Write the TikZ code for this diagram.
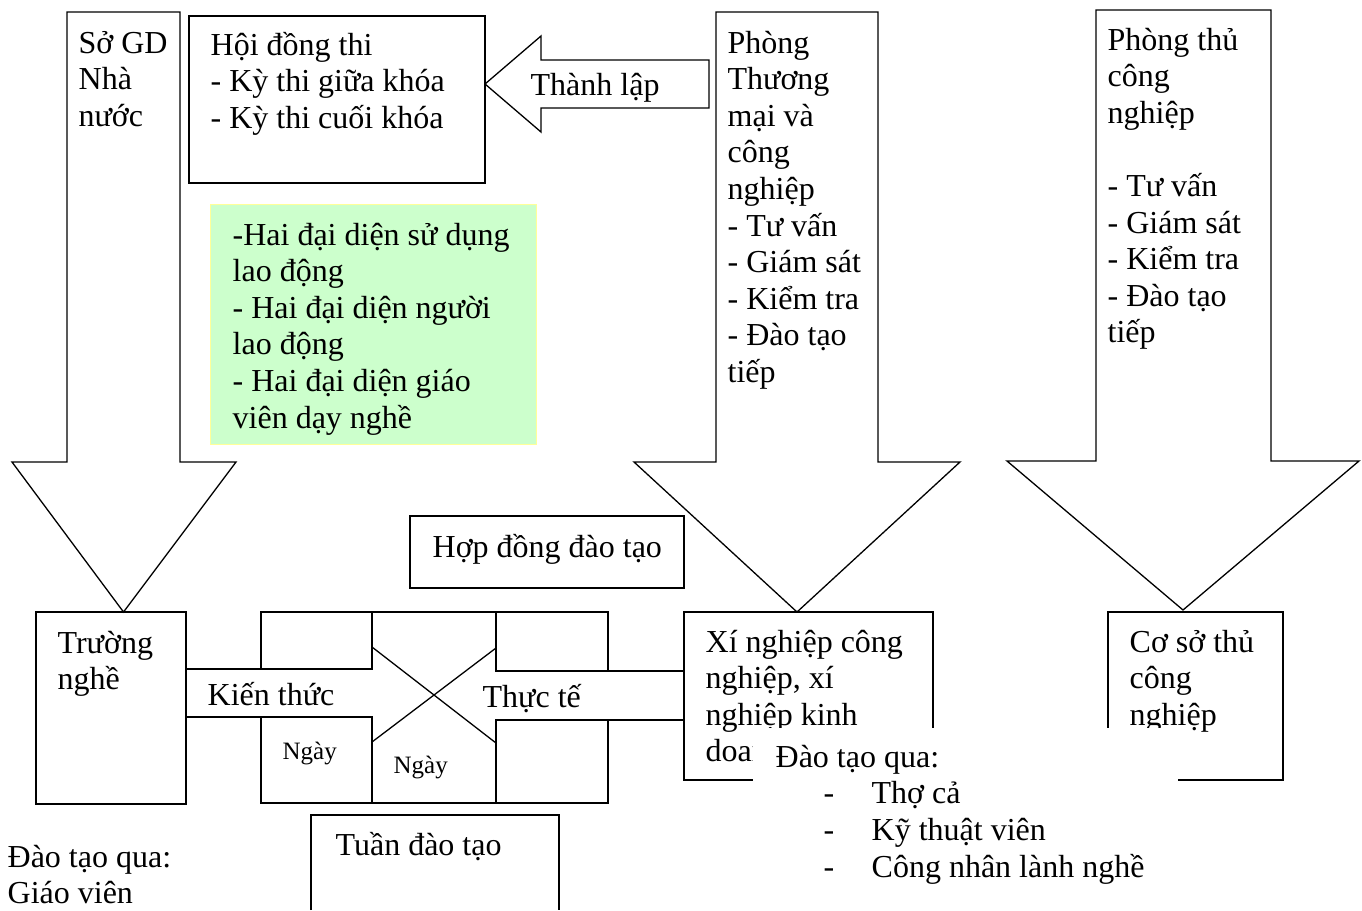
\documentclass[tikz,border=0pt]{standalone}
\usepackage{fontspec}
\setmainfont{Liberation Serif}
% stacked lines with a fixed baseline distance; the box baseline is the first line
\newcommand\txtrows[1]{\vtop{\baselineskip=36.6pt\lineskiplimit=-500pt\lineskip=0pt #1}}
\newcommand\txtline[1]{\hbox{#1}}
\definecolor{notefill}{RGB}{204,255,204}
\definecolor{noteedge}{RGB}{255,255,153}
\begin{document}
\begin{tikzpicture}[x=1pt,y=-1pt,line width=1.3pt,line join=miter,
  txt/.style={anchor=base west,inner sep=0pt,font=\fontsize{32}{36.6}\selectfont},
  smalltxt/.style={anchor=base west,inner sep=0pt,font=\fontsize{25}{29}\selectfont},
  boxed/.style={draw,rectangle,anchor=north west,inner sep=0pt,outer sep=0pt},
  blockarrow/.style={draw,fill=white,line width=1.3pt}]
\useasboundingbox (0,0) rectangle (1362,910);

% ---- block arrows ----
\draw[blockarrow] (67,12) -- (180,12) -- (180,462) -- (236,462) -- (123.5,612)
  -- (12,462) -- (67,462) -- cycle;
\draw[blockarrow] (709,60) -- (541,60) -- (541,36) -- (485,84) -- (541,132)
  -- (541,108) -- (709,108) -- cycle;
\draw[blockarrow] (716,12) -- (878,12) -- (878,462) -- (960,462) -- (797,612)
  -- (634,462) -- (716,462) -- cycle;
\draw[blockarrow] (1096,10) -- (1271,10) -- (1271,461) -- (1359,461) -- (1183,610)
  -- (1007,461) -- (1096,461) -- cycle;

% ---- boxes ----
\node[boxed,minimum width=296pt,minimum height=167pt] (hoidong) at (189,16) {};
\node[boxed,draw=noteedge,fill=notefill,line width=1pt,minimum width=326pt,minimum height=240pt] (note) at (210,204) {};
\node[boxed,minimum width=274pt,minimum height=72pt] (hopdong) at (410,516) {};
\node[boxed,minimum width=150pt,minimum height=192pt] (truong) at (36,612) {};
\node[boxed,minimum width=249pt,minimum height=168pt] (xinghiep) at (684,612) {};
\node[boxed,minimum width=175pt,minimum height=168pt] (coso) at (1108,612) {};

% ---- knowledge / practice exchange ----
\node[boxed,minimum width=111pt,minimum height=57pt] (kttop) at (261,612) {};
\node[boxed,minimum width=111pt,minimum height=86pt] (ktbot) at (261,717) {};
\node[boxed,minimum width=112pt,minimum height=59pt] (tttop) at (496,612) {};
\node[boxed,minimum width=112pt,minimum height=83pt] (ttbot) at (496,720) {};
\draw (truong.east |- kttop.south) -- (kttop.south west);
\draw (truong.east |- ktbot.north) -- (ktbot.north west);
\draw (tttop.south east) -- (xinghiep.west |- tttop.south);
\draw (ttbot.north east) -- (xinghiep.west |- ttbot.north);
\draw (kttop.north east) -- (tttop.north west);
\draw (ktbot.south east) -- (ttbot.south west);
\coordinate (xa) at (372,647);
\coordinate (xb) at (496,743);
\coordinate (xc) at (372,742);
\coordinate (xd) at (496,648);
\draw (xa) -- (xb);
\draw (xc) -- (xd);

% ---- open-bottom box ----
\coordinate (tuanA) at (311,910);
\coordinate (tuanB) at (311,815);
\coordinate (tuanC) at (559,815);
\coordinate (tuanD) at (559,910);
\draw (tuanA) -- (tuanB) -- (tuanC) -- (tuanD);

% ---- texts ----
\node[txt] (tSo) at (78,53) {\txtrows{\txtline{Sở GD}\txtline{Nhà}\txtline{nước}}};
\node[txt] (tHoi) at (210,55) {\txtrows{\txtline{Hội đồng thi}\txtline{- Kỳ thi giữa khóa}\txtline{- Kỳ thi cuối khóa}}};
\node[txt] (tThanh) at (530,95) {Thành lập};
\node[txt] (tPTM) at (727,53) {\txtrows{\txtline{Phòng}\txtline{Thương}\txtline{mại và}\txtline{công}\txtline{nghiệp}\txtline{- Tư vấn}\txtline{- Giám sát}\txtline{- Kiểm tra}\txtline{- Đào tạo}\txtline{tiếp}}};
\node[txt] (tPTC) at (1107,50) {\txtrows{\txtline{Phòng thủ}\txtline{công}\txtline{nghiệp}\txtline{}\txtline{- Tư vấn}\txtline{- Giám sát}\txtline{- Kiểm tra}\txtline{- Đào tạo}\txtline{tiếp}}};
\node[txt] (tNote) at (232,245) {\txtrows{\txtline{-Hai đại diện sử dụng}\txtline{lao động}\txtline{- Hai đại diện người}\txtline{lao động}\txtline{- Hai đại diện giáo}\txtline{viên dạy nghề}}};
\node[txt] (tHop) at (432,557) {Hợp đồng đào tạo};
\node[txt] (tTruong) at (57,653) {\txtrows{\txtline{Trường}\txtline{nghề}}};
\node[txt] (tKien) at (207,705) {Kiến thức};
\node[txt] (tThuc) at (482,707) {Thực tế};
\node[smalltxt] (tNgay1) at (282,759) {Ngày};
\node[smalltxt] (tNgay2) at (393,773) {Ngày};
\node[txt] (tXi) at (705,652) {\txtrows{\txtline{Xí nghiệp công}\txtline{nghiệp, xí}\txtline{nghiệp kinh}\txtline{doanh}}};
\node[txt] (tCo) at (1129,652) {\txtrows{\txtline{Cơ sở thủ}\txtline{công}\txtline{nghiệp}}};
\node[txt] (tTuan) at (335,855) {Tuần đào tạo};
\node[txt] (tGiao) at (7,867) {\txtrows{\txtline{Đào tạo qua:}\txtline{Giáo viên}}};

% ---- caption block laid over the lower boxes ----
\fill[white] (753,728) rectangle (1178,895);
\node[txt] (tDao) at (775,767) {Đào tạo qua:};
\node[txt] (d1) at (823,803) {-};
\node[txt] (d2) at (823,840) {-};
\node[txt] (d3) at (823,877) {-};
\node[txt] (i1) at (871,803) {Thợ cả};
\node[txt] (i2) at (871,840) {Kỹ thuật viên};
\node[txt] (i3) at (871,877) {Công nhân lành nghề};
\end{tikzpicture}
\end{document}
